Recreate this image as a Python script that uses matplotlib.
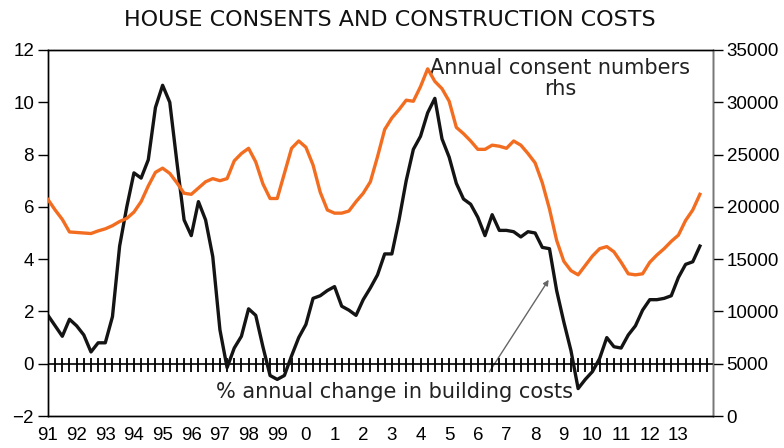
import numpy as np
import matplotlib
matplotlib.use("Agg")
import matplotlib.pyplot as plt

plt.rcParams['font.family'] = ['Liberation Sans', 'DejaVu Sans']

# quarterly, 1991Q1 - 2013Q4
cost_change = [1.85, 1.45, 1.05, 1.7, 1.45, 1.1, 0.45, 0.8, 0.8, 1.8,
               4.5, 6.0, 7.3, 7.1, 7.8, 9.8, 10.65, 10.0, 7.7, 5.5,
               4.9, 6.2, 5.5, 4.1, 1.3, -0.15, 0.6, 1.05, 2.1, 1.85,
               0.65, -0.45, -0.6, -0.45, 0.3, 1.0, 1.5, 2.5, 2.6, 2.8,
               2.95, 2.2, 2.05, 1.85, 2.45, 2.9, 3.4, 4.2, 4.2, 5.5,
               7.0, 8.2, 8.7, 9.6, 10.15, 8.6, 7.9, 6.9, 6.3, 6.1,
               5.6, 4.9, 5.7, 5.1, 5.1, 5.05, 4.85, 5.05, 5.0, 4.45,
               4.4, 2.8, 1.6, 0.5, -0.95, -0.6, -0.3, 0.2, 1.0, 0.65,
               0.6, 1.1, 1.45, 2.05, 2.45, 2.45, 2.5, 2.6, 3.3, 3.8,
               3.9, 4.5]
consents = [20700, 19700, 18800, 17600, 17550, 17500, 17450, 17700, 17900, 18200,
            18600, 18900, 19500, 20500, 22000, 23300, 23700, 23200, 22300, 21300,
            21200, 21800, 22400, 22700, 22500, 22700, 24400, 25100, 25600, 24300,
            22200, 20800, 20800, 23200, 25600, 26300, 25700, 24000, 21400, 19700,
            19400, 19400, 19600, 20500, 21300, 22400, 24800, 27400, 28500, 29300,
            30200, 30100, 31500, 33200, 32000, 31300, 30100, 27600, 27000, 26300,
            25500, 25500, 25900, 25800, 25600, 26300, 25900, 25100, 24200, 22300,
            19800, 16800, 14800, 13900, 13500, 14400, 15300, 16000, 16200, 15700,
            14700, 13600, 13500, 13600, 14700, 15400, 16000, 16700, 17300, 18700,
            19700, 21200]
year_labels = ['91', '92', '93', '94', '95', '96', '97', '98', '99', '0', '1', '2',
               '3', '4', '5', '6', '7', '8', '9', '10', '11', '12', '13']

q = np.arange(len(cost_change))

fig = plt.figure(figsize=(7.84, 4.48), dpi=100)
ax = fig.add_axes([0.0612, 0.0714, 0.848, 0.817])
ax2 = ax.twinx()

ax.plot(q, cost_change, color='#141414', lw=2.4, zorder=3)
ax2.plot(q, consents, color='#F36D21', lw=2.4, zorder=3)

# zero line with quarterly ticks
ax.axhline(0, color='black', lw=1.2, zorder=2)
ticks_q = np.arange(1, len(cost_change) + 1)
ax.plot(ticks_q, np.zeros(len(ticks_q)) - 0.05, ls='none', marker='|',
        ms=10, mew=1.3, color='black', zorder=2)

ax.set_xlim(0, 92.8)
ax.set_ylim(-2, 12)
ax.set_yticks(range(-2, 13, 2))
ax2.set_ylim(0, 35000)
ax2.set_yticks(range(0, 35001, 5000))
ax.set_xticks(np.arange(0, len(year_labels) * 4, 4))
ax.set_xticklabels(year_labels)

ax.tick_params(axis='y', direction='out', length=7, width=1, labelsize=13.5, pad=3)
ax2.tick_params(axis='y', direction='out', length=7, width=1, labelsize=13.5, pad=3)
ax.tick_params(axis='x', length=0, labelsize=13.5, pad=8)
for a in (ax, ax2):
    for s in a.spines.values():
        s.set_linewidth(1.0)
ax2.spines['right'].set_color('#777777')

wide = ['DejaVu Sans']
fig.text(0.497, 0.955, 'HOUSE CONSENTS AND CONSTRUCTION COSTS', ha='center',
         va='center', fontsize=16, color='#111111', family=wide)

ax.text(71.5, 11.7, 'Annual consent numbers\nrhs', ha='center', va='top',
        fontsize=15, color='#222222', linespacing=1.1, zorder=1, family=wide)
ax.text(48.4, -1.08, '% annual change in building costs', ha='center',
        va='center', fontsize=15, color='#222222', zorder=1, family=wide)
ax.annotate('', xy=(70.1, 3.3), xytext=(61.4, -0.4),
            arrowprops=dict(arrowstyle='-|>', color='#666666', lw=1,
                            mutation_scale=8), zorder=1)

fig.savefig('out.png', dpi=100)
